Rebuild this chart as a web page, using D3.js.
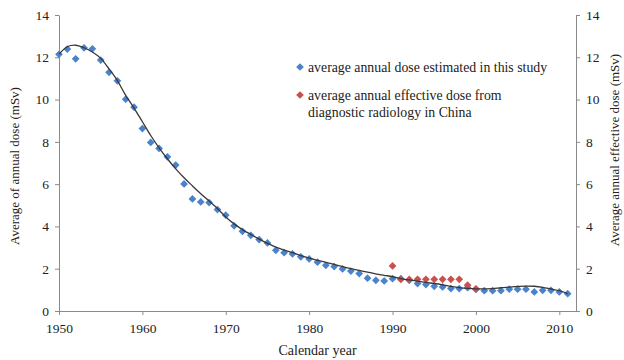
<!DOCTYPE html>
<html>
<head>
<meta charset="utf-8">
<script src="https://cdn.jsdelivr.net/npm/d3@7"></script>
<style>
  body { margin: 0; background: #fff; }
  text { font-family: "Liberation Serif", "Times New Roman", serif; fill: #222; }
</style>
</head>
<body>
<svg id="chart"></svg>
<script>
// years 1950-2011, dose estimated in this study
const studyYears = d3.range(1950, 2012);
const studyDose = [12.14, 12.39, 11.93, 12.45, 12.4, 11.87, 11.29, 10.89, 10.02, 9.64,
    8.63, 7.97, 7.69, 7.29, 6.9, 6.01, 5.3, 5.16, 5.13, 4.8,
    4.53, 4.03, 3.77, 3.58, 3.38, 3.22, 2.87, 2.76, 2.7, 2.56,
    2.46, 2.31, 2.16, 2.1, 1.99, 1.89, 1.77, 1.55, 1.45, 1.42,
    1.53, 1.53, 1.45, 1.3, 1.25, 1.17, 1.14, 1.06, 1.06, 1.1,
    1.02, 0.96, 0.96, 0.96, 1.03, 1.03, 1.03, 0.9, 0.98, 0.98,
    0.9, 0.82];

// diagnostic radiology in China, 1990-2000
const chinaYears = d3.range(1990, 2001);
const chinaDose = [2.13, 1.49, 1.49, 1.5, 1.5, 1.5, 1.5, 1.5, 1.5, 1.22, 1.05];

// fitted curve
const fitYears = d3.range(1950, 2012);
const fitDose = [12.15, 12.5, 12.57, 12.45, 12.25, 11.95, 11.45, 10.9, 10.2, 9.6,
    8.95, 8.3, 7.72, 7.2, 6.72, 6.3, 5.92, 5.55, 5.2, 4.85,
    4.45, 4.12, 3.85, 3.62, 3.4, 3.2, 3.02, 2.88, 2.76, 2.62,
    2.5, 2.4, 2.3, 2.2, 2.1, 2.0, 1.92, 1.84, 1.76, 1.69,
    1.62, 1.53, 1.47, 1.41, 1.35, 1.3, 1.24, 1.17, 1.11, 1.07,
    1.05, 1.05, 1.06, 1.1, 1.13, 1.16, 1.18, 1.17, 1.12, 1.04,
    0.96, 0.82];

const xTicks = [1950, 1960, 1970, 1980, 1990, 2000, 2010];
const yTicks = [0, 2, 4, 6, 8, 10, 12, 14];

const legendLabels = [
    ["average annual dose estimated in this study"],
    ["average annual effective dose from", "diagnostic radiology in China"]
];

const W = 624, H = 360;
const margin = { top: 15, right: 48, bottom: 49, left: 59 };
const colors = { study: "#4a82cc", china: "#c9504c", fit: "#383838", axis: "#8a8a8a" };

const svg = d3.select("#chart").attr("width", W).attr("height", H);

const x = d3.scaleLinear().domain([1950, 2012]).range([margin.left, W - margin.right]);
const y = d3.scaleLinear().domain([0, 14]).range([H - margin.bottom, margin.top]);

function styleAxis(g) {
    g.select(".domain").attr("stroke", colors.axis);
    g.selectAll(".tick line").attr("stroke", colors.axis);
    g.selectAll(".tick text").attr("font-size", 13.5).attr("fill", "#222")
        .attr("font-family", "Liberation Serif, serif");
}

svg.append("g")
    .attr("transform", `translate(0, ${y(0)})`)
    .call(d3.axisBottom(x).tickValues(xTicks).tickFormat(d3.format("d")).tickSize(4).tickSizeOuter(0).tickPadding(8))
    .call(styleAxis);

svg.append("g")
    .attr("transform", `translate(${x(1950)}, 0)`)
    .call(d3.axisLeft(y).tickValues(yTicks).tickSize(4).tickSizeOuter(0).tickPadding(6))
    .call(styleAxis);

svg.append("g")
    .attr("transform", `translate(${x(2012)}, 0)`)
    .call(d3.axisRight(y).tickValues(yTicks).tickSize(4).tickSizeOuter(0).tickPadding(6))
    .call(styleAxis);

// axis titles
svg.append("text")
    .attr("x", (x(1950) + x(2012)) / 2).attr("y", 355)
    .attr("text-anchor", "middle").attr("font-size", 14)
    .text("Calendar year");

svg.append("text")
    .attr("transform", `translate(19, ${(y(0) + y(14)) / 2 + 3}) rotate(-90)`)
    .attr("text-anchor", "middle").attr("font-size", 13)
    .text("Average of  annual dose (mSv)");

svg.append("text")
    .attr("transform", `translate(619, ${(y(0) + y(14)) / 2 - 13}) rotate(-90)`)
    .attr("text-anchor", "middle").attr("font-size", 13)
    .text("Average annual effective dose (mSv)");

const diamond = d3.symbol().type(d3.symbolSquare).size(30);

function drawPoints(years, values, color) {
    svg.append("g")
        .selectAll("path")
        .data(years.map((yr, i) => [yr, values[i]]))
        .join("path")
        .attr("d", diamond)
        .attr("transform", d => `translate(${x(d[0])}, ${y(d[1])}) rotate(45)`)
        .attr("fill", color);
}

drawPoints(studyYears, studyDose, colors.study);
drawPoints(chinaYears, chinaDose, colors.china);

const line = d3.line()
    .x((d, i) => x(fitYears[i]))
    .y(d => y(d))
    .curve(d3.curveCatmullRom);

svg.append("path")
    .datum(fitDose)
    .attr("d", line)
    .attr("fill", "none")
    .attr("stroke", colors.fit)
    .attr("stroke-width", 1.3);

// legend
const legend = svg.append("g").attr("transform", "translate(300, 67)");
const legendColors = [colors.study, colors.china];
legendLabels.forEach((lines, i) => {
    const g = legend.append("g").attr("transform", `translate(0, ${i * 28})`);
    g.append("path").attr("d", diamond).attr("transform", "rotate(45)").attr("fill", legendColors[i]);
    lines.forEach((t, j) => {
        g.append("text").attr("x", 8).attr("y", 5 + j * 17)
            .attr("font-size", 13.8).text(t);
    });
});
</script>
</body>
</html>
